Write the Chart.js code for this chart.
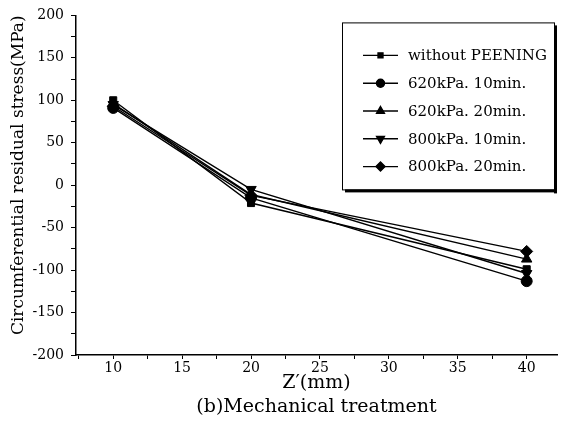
<!DOCTYPE html>
<html>
<head>
<meta charset="utf-8">
<script src="https://cdn.jsdelivr.net/npm/chart.js@4.4.1/dist/chart.umd.min.js"></script>
<style>
  html, body { margin: 0; padding: 0; background: #fff; }
  #wrap { width: 564px; height: 437px; }
</style>
</head>
<body>
<div id="wrap"><canvas id="stressChart" width="564" height="437"></canvas></div>
<script>
// depth Z' (mm)
const depths = [10, 20, 40];

// circumferential residual stress (MPa)
const withoutPeening = [100, -21, -99];
const kpa620min10 = [91, -15, -113];
const kpa620min20 = [96, -11, -87];
const kpa800min10 = [95, -5, -104];
const kpa800min20 = [93, -12, -78];

const seriesLabels = ['without PEENING', '620kPa. 10min.', '620kPa. 20min.', '800kPa. 10min.', '800kPa. 20min.'];
const xTicks = [7.5, 10, 12.5, 15, 17.5, 20, 22.5, 25, 27.5, 30, 32.5, 35, 37.5, 40];

const FONT = '"DejaVu Serif", "Liberation Serif", serif';

function toPoints(vals) {
  return depths.map((d, i) => ({ x: d, y: vals[i] }));
}

function makeSet(label, vals, style, rot, radius) {
  return {
    label: label,
    data: toPoints(vals),
    borderColor: '#000',
    backgroundColor: '#000',
    borderWidth: 1.4,
    pointStyle: style,
    rotation: rot,
    pointRadius: radius,
    pointBorderWidth: 1,
    tension: 0
  };
}

// legend box drawn inside the plot, upper right
const boxLegend = {
  id: 'boxLegend',
  afterDraw(chart) {
    const ctx = chart.ctx;
    const area = chart.chartArea;
    const right = area.right - 3;
    const top = area.top + 7;
    const w = 212, h = 167;
    const left = right - w;
    ctx.save();
    ctx.strokeStyle = '#000';
    ctx.fillStyle = '#fff';
    ctx.lineWidth = 1;
    ctx.fillRect(left, top, w, h);
    ctx.strokeRect(left + 0.5, top + 0.5, w, h);
    // shadow on right and bottom
    ctx.fillStyle = '#000';
    ctx.fillRect(left + w, top + 3, 3, h + 1);
    ctx.fillRect(left + 3, top + h, w, 3);

    ctx.font = '15px ' + FONT;
    ctx.textBaseline = 'middle';
    chart.data.datasets.forEach((ds, i) => {
      const y = top + 33 + i * 27.8;
      const x0 = left + 21;
      ctx.lineWidth = 1.4;
      ctx.beginPath();
      ctx.moveTo(x0, y);
      ctx.lineTo(x0 + 35, y);
      ctx.stroke();
      Chart.helpers.drawPoint(ctx, {
        pointStyle: ds.pointStyle,
        rotation: ds.rotation,
        radius: ds.pointRadius - 1.5,
        borderWidth: 1
      }, x0 + 17.5, y);
      ctx.fill();
      ctx.fillStyle = '#000';
      ctx.fillText(ds.label, x0 + 45, y + 1);
    });
    ctx.restore();
  }
};

const ctx = document.getElementById('stressChart').getContext('2d');
new Chart(ctx, {
  type: 'line',
  data: {
    datasets: [
      makeSet(seriesLabels[0], withoutPeening, 'rect', 0, 5),
      makeSet(seriesLabels[1], kpa620min10, 'circle', 0, 5.5),
      makeSet(seriesLabels[2], kpa620min20, 'triangle', 0, 6),
      makeSet(seriesLabels[3], kpa800min10, 'triangle', 180, 6),
      makeSet(seriesLabels[4], kpa800min20, 'rectRot', 0, 6)
    ]
  },
  options: {
    responsive: false,
    animation: false,
    layout: { padding: { left: 0, right: 4, top: 13, bottom: 18 } },
    plugins: {
      legend: { display: false },
      tooltip: { enabled: false }
    },
    scales: {
      x: {
        type: 'linear',
        min: 7.3,
        max: 42.2,
        afterBuildTicks: (scale) => { scale.ticks = xTicks.map(v => ({ value: v })); },
        afterFit: (scale) => { scale.height = 64; },
        border: { color: '#000', width: 1.5 },
        grid: { drawOnChartArea: false, color: '#000', tickLength: 4, lineWidth: 1 },
        ticks: {
          color: '#000',
          padding: 1,
          maxRotation: 0,
          autoSkip: false,
          font: { family: FONT, size: 14 },
          callback: (v) => (v % 5 === 0 ? v : '')
        },
        title: {
          display: true,
          text: ['Z′(mm)', '(b)Mechanical treatment'],
          color: '#000',
          font: { family: FONT, size: 19, lineHeight: 1.26 },
          padding: { top: 0, bottom: 0 }
        }
      },
      y: {
        min: -200,
        max: 200,
        afterFit: (scale) => { scale.width = 76; },
        border: { color: '#000', width: 1.5 },
        grid: { drawOnChartArea: false, color: '#000', tickLength: 5, lineWidth: 1 },
        ticks: {
          stepSize: 25,
          color: '#000',
          padding: 7,
          font: { family: FONT, size: 14 },
          callback: (v) => (v % 50 === 0 ? v : '')
        },
        title: {
          display: true,
          align: 'end',
          text: 'Circumferential residual stress(MPa)',
          color: '#000',
          font: { family: FONT, size: 17 },
          padding: { top: 8, bottom: 2 }
        }
      }
    }
  },
  plugins: [boxLegend]
});
</script>
</body>
</html>
